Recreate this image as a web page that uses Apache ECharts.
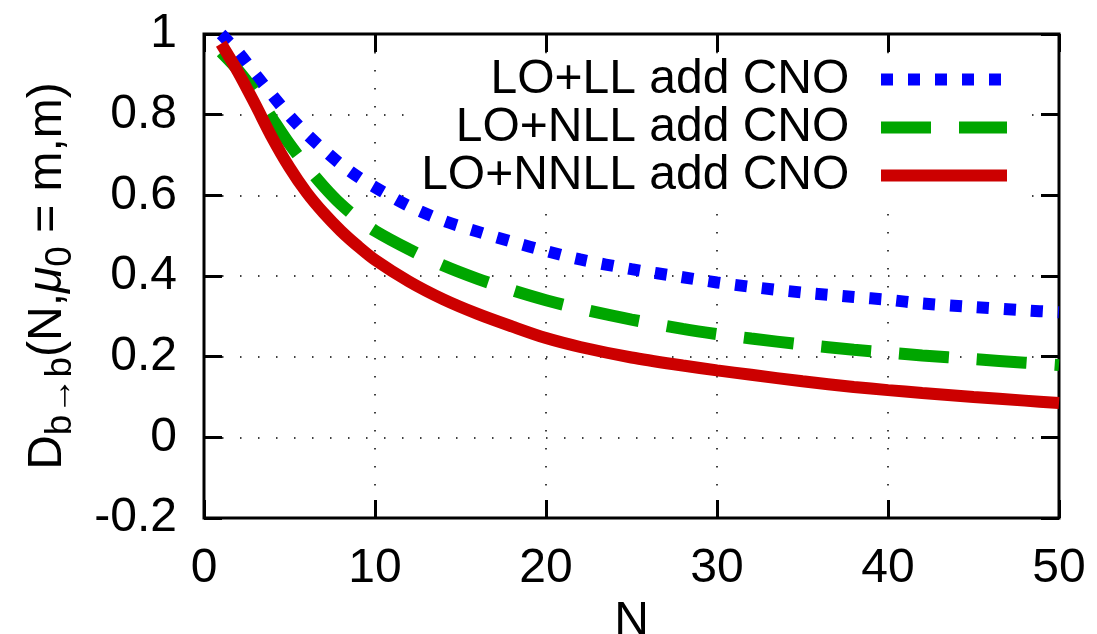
<!DOCTYPE html>
<html>
<head>
<meta charset="utf-8">
<script src="https://cdn.jsdelivr.net/npm/echarts@6/dist/echarts.min.js"></script>
<style>
html,body{margin:0;padding:0;background:#fff;}
#chart{width:1097px;height:634px;}
</style>
</head>
<body>
<div id="chart"></div>
<script>
// ---- data ----
const N_VALUES = [1,2,3,4,5,6,7,8,9,10,12,14,16,18,20,22,25,28,30,32,35,38,40,42,45,48,50];
const LO_LL   = [1.0,0.955,0.9,0.848,0.797,0.752,0.713,0.677,0.646,0.62,0.573,0.537,0.51,0.485,0.462,0.441,0.417,0.397,0.384,0.373,0.359,0.348,0.341,0.332,0.323,0.315,0.31];
const LO_NLL  = [0.955,0.91,0.855,0.79,0.727,0.672,0.622,0.578,0.542,0.512,0.466,0.426,0.393,0.365,0.34,0.319,0.292,0.269,0.256,0.245,0.23,0.217,0.21,0.203,0.194,0.185,0.179];
const LO_NNLL = [0.976,0.905,0.825,0.742,0.669,0.607,0.556,0.512,0.474,0.44,0.386,0.342,0.306,0.275,0.246,0.224,0.198,0.178,0.166,0.155,0.139,0.125,0.117,0.11,0.1,0.091,0.085];
const SERIES_NAMES = ['LO+LL add CNO','LO+NLL add CNO','LO+NNLL add CNO'];
const X_TICKS = [0,10,20,30,40,50];
const Y_TICKS = [-0.2,0,0.2,0.4,0.6,0.8,1];

const FONT = 'Liberation Sans';
const FS = 48;

function pairs(ys){ return N_VALUES.map((n,i)=>[n, ys[i]]); }

const chart = echarts.init(document.getElementById('chart'), null, {renderer:'canvas'});

const dotted = {color:'#000', width:1.5, type:[1.5,16.5]};
const tick = {show:true, inside:true, length:18, lineStyle:{color:'#000', width:3}};

const option = {
  backgroundColor:'#fff',
  animation:false,
  textStyle:{fontFamily:FONT},
  grid:{left:204, right:38, top:34, bottom:116, show:true, borderColor:'#000', borderWidth:3,
        backgroundColor:'transparent', containLabel:false, outerBoundsMode:'none'},
  legend:{
    orient:'vertical', align:'right', right:70, top:53.5,
    padding:[2,14,6,7], itemGap:0, itemWidth:126, itemHeight:12,
    backgroundColor:'#fff',
    selectedMode:false,
    data:SERIES_NAMES,
    formatter:n=>n+'  ',
    textStyle:{fontSize:FS, fontFamily:FONT, color:'#000', lineHeight:48},
    lineStyle:{width:12},
    itemStyle:{opacity:0}
  },
  xAxis:[{
    type:'value', min:X_TICKS[0], max:X_TICKS[X_TICKS.length-1], interval:10, position:'bottom',
    axisLine:{show:false, onZero:false}, axisTick:tick,
    axisLabel:{fontSize:FS, fontFamily:FONT, color:'#000', margin:27},
    splitLine:{show:true, lineStyle:dotted},
    name:'N', nameLocation:'middle', nameGap:76,
    nameTextStyle:{fontSize:FS, fontFamily:FONT, color:'#000'}
  },{
    type:'value', min:X_TICKS[0], max:X_TICKS[X_TICKS.length-1], interval:10, position:'top',
    axisLine:{show:false, onZero:false}, axisTick:tick, axisLabel:{show:false}, splitLine:{show:false}
  }],
  yAxis:[{
    type:'value', min:Y_TICKS[0], max:Y_TICKS[Y_TICKS.length-1], interval:0.2, position:'left',
    axisLine:{show:false, onZero:false}, axisTick:tick,
    axisLabel:{fontSize:FS, fontFamily:FONT, color:'#000', margin:27},
    splitLine:{show:true, lineStyle:dotted},
    name:'{m|D}{s|b→b}{m|(N,}{i|μ}{s|0}{m| = m,m)}',
    nameLocation:'middle', nameRotate:90, nameGap:125,
    nameTextStyle:{
      fontSize:FS, fontFamily:FONT, color:'#000',
      rich:{
        m:{fontSize:FS, fontFamily:FONT, color:'#000'},
        i:{fontSize:FS, fontFamily:FONT, color:'#000', fontStyle:'italic'},
        s:{fontSize:37, fontFamily:FONT, color:'#000', padding:[26,0,0,0]}
      }
    }
  },{
    type:'value', min:Y_TICKS[0], max:Y_TICKS[Y_TICKS.length-1], interval:0.2, position:'right',
    axisLine:{show:false, onZero:false}, axisTick:tick, axisLabel:{show:false}, splitLine:{show:false}
  }],
  series:[
    {name:SERIES_NAMES[0], type:'line', data:pairs(LO_LL), symbol:'none', smooth:0.3,
     itemStyle:{color:'#0000ff'}, lineStyle:{color:'#0000ff', width:12, type:[12,15], cap:'butt'}, z:3},
    {name:SERIES_NAMES[1], type:'line', data:pairs(LO_NLL), symbol:'none', smooth:0.3,
     itemStyle:{color:'#00a600'}, lineStyle:{color:'#00a600', width:12, type:[50,28], cap:'butt'}, z:3},
    {name:SERIES_NAMES[2], type:'line', data:pairs(LO_NNLL), symbol:'none', smooth:0.3,
     itemStyle:{color:'#cc0000'}, lineStyle:{color:'#cc0000', width:12, type:'solid', cap:'butt'}, z:3}
  ]
};
chart.setOption(option);
</script>
</body>
</html>
